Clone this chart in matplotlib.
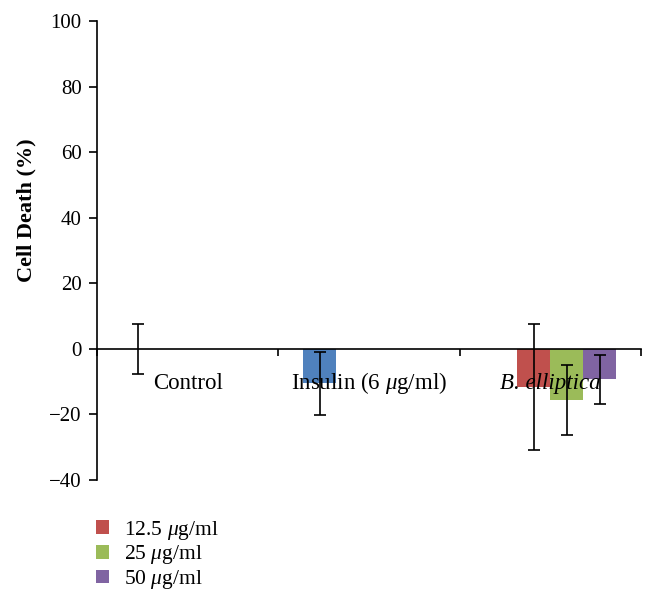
import matplotlib
matplotlib.use('Agg')
import matplotlib.pyplot as plt
from matplotlib.patches import Patch
import numpy as np

plt.rcParams['font.family'] = ['Liberation Serif', 'DejaVu Serif']
plt.rcParams['mathtext.fontset'] = 'custom'
plt.rcParams['mathtext.it'] = 'Liberation Serif:italic'
plt.rcParams['mathtext.rm'] = 'Liberation Serif'

# ---- data ----
categories = ['Control', 'Insulin (6 $\\mu$g/ml)', 'B. elliptica']
italic_cat = [False, False, True]
series_labels = ['Control/Insulin', '12.5 $\\mu$g/ml', '25 $\\mu$g/ml', '50 $\\mu$g/ml']
base_vals = [0.0, -10.5, np.nan]
base_err = [7.7, 9.6, np.nan]
low_vals = [np.nan, np.nan, -11.6]
low_err = [np.nan, np.nan, 19.3]
mid_vals = [np.nan, np.nan, -15.6]
mid_err = [np.nan, np.nan, 10.7]
high_vals = [np.nan, np.nan, -9.3]
high_err = [np.nan, np.nan, 7.5]
yticks = [-40, -20, 0, 20, 40, 60, 80, 100]

colors = ['#4F81BD', '#C0504D', '#9BBB59', '#8064A2']
all_vals = [base_vals, low_vals, mid_vals, high_vals]
all_errs = [base_err, low_err, mid_err, high_err]

fig = plt.figure(figsize=(6.56, 6.11), dpi=100)
ax = fig.add_axes([97/656, 1-480/611, (641-97)/656, (480-21)/611])

w = 33/181.5
offsets = [-1.5*w, -0.5*w, 0.5*w, 1.5*w]
handles = []
for k in range(4):
    vals = np.array(all_vals[k], dtype=float)
    errs = np.array(all_errs[k], dtype=float)
    idx = np.where(np.isfinite(vals))[0]
    x = idx + 0.5 + offsets[k]
    ax.bar(x, vals[idx], width=w, color=colors[k], zorder=2)
    ax.errorbar(x, vals[idx], yerr=errs[idx], fmt='none', ecolor='black',
                elinewidth=1.2, capsize=4.5, capthick=1.2, zorder=4)
    handles.append(Patch(facecolor=colors[k], label=series_labels[k]))

ax.set_xlim(0, 3)
ax.set_ylim(-40, 100)
ax.set_yticks(yticks)
ax.set_yticklabels([str(t).replace('-', '\u2212') for t in yticks], fontsize=15)
ax.spines['top'].set_visible(False)
ax.spines['right'].set_visible(False)
ax.spines['bottom'].set_position(('data', 0))
ax.spines['bottom'].set_zorder(3)
for s in ['left', 'bottom']:
    ax.spines[s].set_linewidth(1.2)
ax.set_xticks([0, 1, 2, 3])
ax.set_xticklabels([])
ax.tick_params(axis='x', direction='out', length=5, width=1.2)
ax.tick_params(axis='y', direction='out', length=6, width=1.2, pad=5)

for i, c in enumerate(categories):
    ax.text(i + 0.5, -12.2, c, ha='center', va='baseline', fontsize=16.5,
            style='italic' if italic_cat[i] else 'normal', zorder=5)

fig.text(26/656, 1-210/611, 'Cell Death (%)', rotation=90, ha='center', va='center',
         fontsize=16, fontweight='bold')

fig.legend(handles=handles[1:], loc='upper left', bbox_to_anchor=(87/656, 1-510/611),
           frameon=False, fontsize=15.5, handlelength=0.6, handleheight=0.6,
           handletextpad=0.7, labelspacing=0.08, borderaxespad=0)

fig.savefig('out.png', dpi=100)
